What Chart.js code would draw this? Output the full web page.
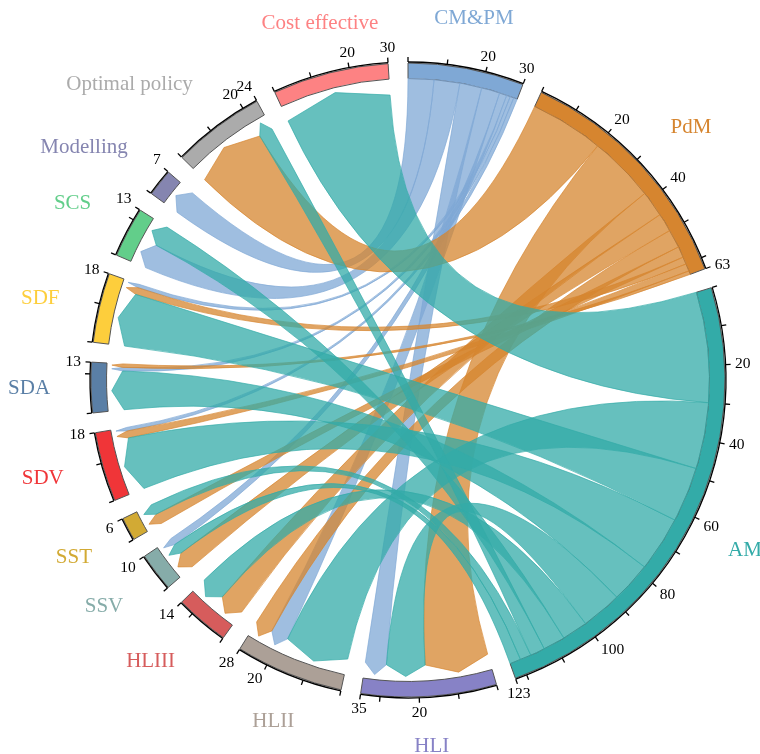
<!DOCTYPE html>
<html><head><meta charset="utf-8">
<script src="https://cdn.jsdelivr.net/npm/chart.js@4.4.1/dist/chart.umd.min.js"></script>
<style>html,body{margin:0;padding:0;background:#fff}#wrap{width:760px;height:754px}</style>
</head><body><div id="wrap"><canvas id="c" width="760" height="754"></canvas></div>
<script>
// ---- data ----
const groupNames = ['CM&PM','PdM','AM','HLI','HLII','HLIII','SSV','SST','SDV','SDA','SDF','SCS','Modelling','Optimal policy','Cost effective'];
const groupColors = ['#7FA8D5','#D6852F','#33ABA8','#8782C6','#ACA097','#D65C5C','#86ACA9','#D2AA34','#F03538','#5A7FA6','#FDCE3C','#62CE8A','#8585B0','#ABABAB','#FD8283'];
const sourceNames = ['CM&PM','PdM','AM'];
const targetNames = ['HLI','HLII','HLIII','SSV','SST','SDV','SDA','SDF','SCS','Modelling','Optimal policy','Cost effective'];
// flows from each source to each target (same order as targetNames)
const linksCMPM = [6, 5, 0, 2, 0, 1, 1, 1, 7, 7, 0, 0];
const linksPdM  = [18, 5, 7, 5, 3, 2, 1, 2, 0, 0, 20, 0];
const linksAM   = [11, 18, 7, 3, 3, 15, 11, 15, 6, 0, 4, 30];
const tickStep = 10, labelStep = 20;

// ---- derived ----
const linkRows = [linksCMPM, linksPdM, linksAM];
const groupValues = groupNames.map(n => {
  const si = sourceNames.indexOf(n);
  if (si >= 0) return linkRows[si].reduce((a, b) => a + b, 0);
  const ti = targetNames.indexOf(n);
  return linkRows.reduce((a, row) => a + row[ti], 0);
});
const GAP_DEG = 3.6;
const total = groupValues.reduce((a, b) => a + b, 0);
const gapUnits = GAP_DEG * total / (360 - groupNames.length * GAP_DEG);
const ringData = [], ringColors = [], ringBorders = [], ringBW = [], ringLabels = [];
groupNames.forEach((n, i) => {
  ringData.push(groupValues[i]); ringColors.push(groupColors[i]); ringBorders.push('#555555'); ringBW.push(1); ringLabels.push(n);
  ringData.push(gapUnits); ringColors.push('rgba(0,0,0,0)'); ringBorders.push('rgba(0,0,0,0)'); ringBW.push(0); ringLabels.push('');
});

function hexA(hex, a) {
  const v = parseInt(hex.slice(1), 16);
  return `rgba(${(v >> 16) & 255},${(v >> 8) & 255},${v & 255},${a})`;
}

const links = [];
linkRows.forEach((row, si) => row.forEach((v, ti) => {
  if (v > 0) links.push({ si, ti, v, sg: groupNames.indexOf(sourceNames[si]), tg: groupNames.indexOf(targetNames[ti]) });
}));
// positions inside sectors (largest first, clockwise)
sourceNames.forEach((n, si) => {
  let u = 0;
  links.filter(l => l.si === si).sort((a, b) => b.v - a.v || b.ti - a.ti).forEach(l => { l.s0 = u; u += l.v; l.s1 = u; });
});
targetNames.forEach((n, ti) => {
  let u = 0;
  links.filter(l => l.ti === ti).sort((a, b) => b.v - a.v || a.si - b.si).forEach(l => { l.t0 = u; u += l.v; l.t1 = u; });
});

const chordPlugin = {
  id: 'chords',
  afterDatasetsDraw(chart) {
    const meta = chart.getDatasetMeta(0);
    const arcs = groupNames.map((n, i) => meta.data[2 * i]);
    const cx = arcs[0].x, cy = arcs[0].y;
    const rIn = arcs[0].innerRadius, rOut = arcs[0].outerRadius;
    const ang = (gi, u) => arcs[gi].startAngle + (arcs[gi].endAngle - arcs[gi].startAngle) * u / groupValues[gi];
    const P = (r, a) => [cx + r * Math.cos(a), cy + r * Math.sin(a)];
    const ctx = chart.ctx;
    ctx.save();
    const rs = rIn, rc = rIn - 16, rt = rIn - 5;
    links.forEach(l => {
      const sa0 = ang(l.sg, l.s0), sa1 = ang(l.sg, l.s1);
      const ta0 = ang(l.tg, l.t0), ta1 = ang(l.tg, l.t1);
      const tm = (ta0 + ta1) / 2;
      ctx.beginPath();
      ctx.arc(cx, cy, rs, sa0, sa1);
      let p = P(rc, ta0);
      ctx.quadraticCurveTo(cx, cy, p[0], p[1]);
      p = P(rt, tm); ctx.lineTo(p[0], p[1]);
      p = P(rc, ta1); ctx.lineTo(p[0], p[1]);
      p = P(rs, sa0);
      ctx.quadraticCurveTo(cx, cy, p[0], p[1]);
      ctx.closePath();
      const col = groupColors[l.sg];
      ctx.fillStyle = hexA(col, 0.75);
      ctx.fill();
      ctx.strokeStyle = hexA(col, 0.95);
      ctx.lineWidth = 0.7;
      ctx.stroke();
    });
    // axes
    const rAx = rOut + 1, tickLen = 5, rTickLab = rOut + 10.5, rName = rOut + 41;
    ctx.strokeStyle = '#000'; ctx.lineWidth = 1.3; ctx.fillStyle = '#000';
    const T = 0.383;
    const placeText = (txt, r, a, font, color, hh) => {
      ctx.font = font; ctx.fillStyle = color;
      const w = ctx.measureText(txt).width;
      const c = Math.cos(a), s = Math.sin(a);
      const hd = c > T ? 1 : (c < -T ? -1 : 0);
      const vd = s > T ? 1 : (s < -T ? -1 : 0);
      const x = cx + r * c + hd * w / 2, y = cy + r * s + vd * hh;
      ctx.textAlign = 'center'; ctx.textBaseline = 'middle';
      ctx.fillText(txt, x, y);
    };
    groupNames.forEach((n, gi) => {
      const a0 = ang(gi, 0), a1 = ang(gi, groupValues[gi]);
      ctx.beginPath(); ctx.arc(cx, cy, rAx, a0, a1); ctx.stroke();
      const ticks = [];
      for (let u = 0; u < groupValues[gi]; u += tickStep) ticks.push(u);
      ticks.push(groupValues[gi]);
      ticks.forEach(u => {
        const a = ang(gi, u);
        const p1 = P(rAx, a), p2 = P(rAx + tickLen, a);
        ctx.beginPath(); ctx.moveTo(p1[0], p1[1]); ctx.lineTo(p2[0], p2[1]); ctx.stroke();
        const isLab = (u > 0 && u % labelStep === 0 && groupValues[gi] - u > 3) || u === groupValues[gi];
        if (isLab) placeText(String(u), rTickLab, a, '15.5px "Liberation Serif"', '#000', 5.5);
      });
      placeText(n, rName, (a0 + a1) / 2, '21px "Liberation Serif"', groupColors[gi], 9.5);
    });
    ctx.restore();
  }
};

new Chart(document.getElementById('c'), {
  type: 'doughnut',
  data: { labels: ringLabels, datasets: [{ data: ringData, backgroundColor: ringColors, borderColor: ringBorders, borderWidth: ringBW, hoverOffset: 0 }] },
  options: {
    responsive: false, animation: false, events: [],
    radius: 317, cutout: 301,
    layout: { padding: { left: 91, right: 35, top: 63, bottom: 57 } },
    plugins: { legend: { display: false }, tooltip: { enabled: false } }
  },
  plugins: [chordPlugin]
});
</script>
</body></html>
